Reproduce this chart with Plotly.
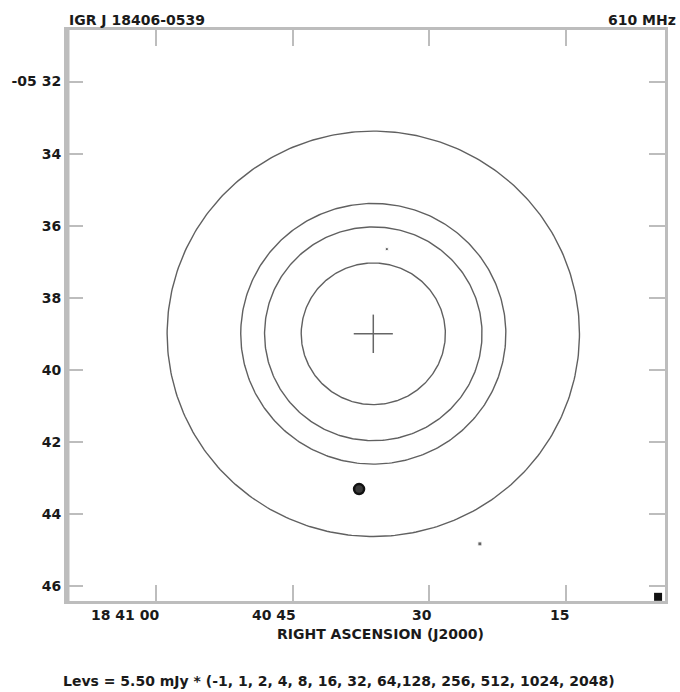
import numpy as np
import plotly.graph_objects as go

# --- map data -------------------------------------------------------------
# RA in seconds past 18h40m, Dec in arcmin below -05 deg
ra_ticks = [60, 45, 30, 15]
ra_tick_text = ["18 41 00", "40 45", "30", "15"]
dec_ticks = [32, 34, 36, 38, 40, 42, 44, 46]
dec_tick_text = ["-05 32", "34", "36", "38", "40", "42", "44", "46"]

# contour multipliers and the base level
levs = [-1, 1, 2, 4, 8, 16, 32, 64, 128, 256, 512, 1024, 2048]
base_mjy = 5.50

# source contours (circular), radius in arcsec for each drawn level
center_ra = 36.15
center_dec = 39.0
contour_levels = [1, 2, 4, 8]
contour_radius_arcsec = [337.5, 217.0, 178.0, 118.0]

# position marker (cross) half-size in arcsec
cross_half_arcsec = 32.0

# compact features
point_ra = [34.67, 24.46]
point_dec = [36.65, 44.83]
blob_ra = [37.71]
blob_dec = [43.31]
edge_ra = [4.92]
edge_dec = [46.30]

dec_deg = -(5 + center_dec / 60.0)
cosd = np.cos(np.radians(dec_deg))

fig = go.Figure()

t = np.linspace(0, 2 * np.pi, 361)
for lev, r in zip(contour_levels, contour_radius_arcsec):
    fig.add_trace(go.Scatter(
        x=center_ra + r * np.cos(t) / (15.0 * cosd),
        y=center_dec + r * np.sin(t) / 60.0,
        mode="lines", line=dict(color="#606060", width=1.4),
        hoverinfo="skip", showlegend=False, name=f"{lev}"))

# cross marking the source position
ch_ra = cross_half_arcsec / (15.0 * cosd)
ch_dec = cross_half_arcsec / 60.0
fig.add_trace(go.Scatter(
    x=[center_ra - ch_ra, center_ra + ch_ra, None, center_ra, center_ra],
    y=[center_dec, center_dec, None, center_dec - ch_dec, center_dec + ch_dec],
    mode="lines", line=dict(color="#666666", width=1.5),
    hoverinfo="skip", showlegend=False))

fig.add_trace(go.Scatter(
    x=point_ra, y=point_dec, mode="markers",
    marker=dict(symbol="square", size=[3, 4], color="#222222"),
    hoverinfo="skip", showlegend=False))
fig.add_trace(go.Scatter(
    x=blob_ra, y=blob_dec, mode="markers",
    marker=dict(symbol="circle", size=10, color="#3a3a3a",
                line=dict(color="#111111", width=2.5)),
    hoverinfo="skip", showlegend=False))
fig.add_trace(go.Scatter(
    x=edge_ra, y=edge_dec, mode="markers",
    marker=dict(symbol="square", size=8, color="#111111"),
    hoverinfo="skip", showlegend=False))

font = dict(family="DejaVu Sans", size=14, color="#1a1a1a", weight="bold")
frame_grey = "#bdbdbd"

fig.update_xaxes(
    range=[69.74, 4.16], tickvals=ra_ticks, showticklabels=False,
    ticks="inside", ticklen=16, tickwidth=2, tickcolor=frame_grey,
    showline=True, linewidth=3, linecolor=frame_grey, mirror="ticks",
    showgrid=False, zeroline=False)
fig.update_yaxes(
    range=[46.416, 30.568], tickvals=dec_ticks, ticktext=dec_tick_text,
    ticks="inside", ticklen=16, tickwidth=2, tickcolor=frame_grey,
    showline=True, linewidth=3, linecolor=frame_grey, mirror="ticks",
    showgrid=False, zeroline=False, tickfont=font)

# heavier left border
fig.add_shape(type="line", xref="paper", yref="paper", x0=0, x1=0, y0=0, y1=1,
              line=dict(color=frame_grey, width=5), layer="above")

annotations = []
for v, txt in zip(ra_ticks, ra_tick_text):
    annotations.append(dict(x=v, y=0, xref="x", yref="paper", text=txt,
                            showarrow=False, xanchor="right", yanchor="middle",
                            xshift=5, yshift=-14, font=font))
annotations.append(dict(x=(380.5 - 64) / 604, y=0, xref="paper", yref="paper",
                        text="RIGHT ASCENSION (J2000)", showarrow=False,
                        xanchor="center", yanchor="middle", yshift=-33, font=font))
annotations.append(dict(x=0, y=1, xref="paper", yref="paper",
                        text="IGR J 18406-0539", showarrow=False,
                        xanchor="left", yanchor="middle", yshift=10, font=font))
annotations.append(dict(x=(681 - 64) / 604, y=1, xref="paper", yref="paper",
                        text="610 MHz", showarrow=False,
                        xanchor="right", yanchor="middle", yshift=10, font=font))
lev_text = ", ".join(str(v) for v in levs).replace("64, 128", "64,128")
annotations.append(dict(x=(339 - 64) / 604, y=0, xref="paper", yref="paper",
                        text=f"Levs = {base_mjy:.2f} mJy * ({lev_text})",
                        showarrow=False, xanchor="center", yanchor="middle",
                        yshift=-80, font=font))

fig.update_layout(
    width=680, height=692,
    margin=dict(l=64, r=12, t=30, b=91),
    paper_bgcolor="white", plot_bgcolor="white",
    annotations=annotations, showlegend=False)

fig.write_html("out.html")
